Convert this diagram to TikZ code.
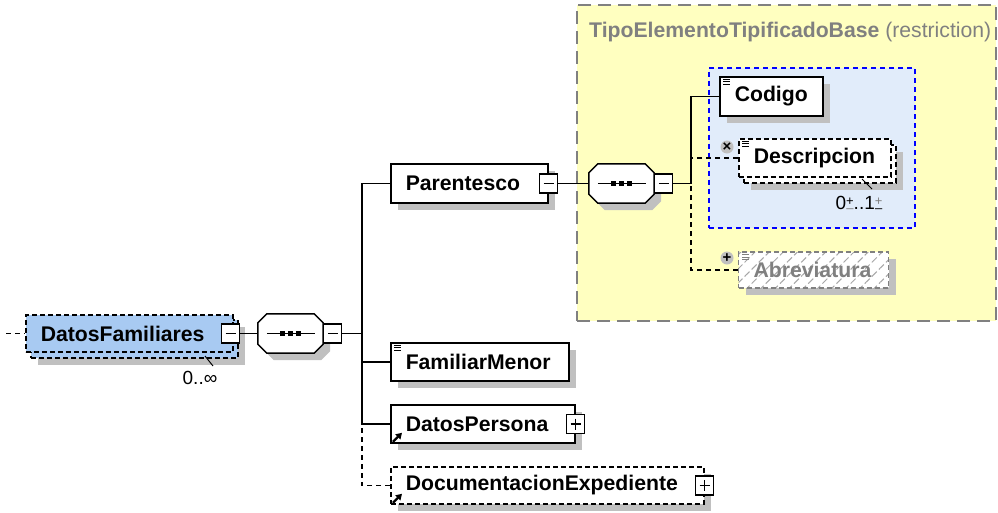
\documentclass[tikz,border=0pt]{standalone}
\usepackage{fontspec}
\setmainfont{Liberation Sans}
\usetikzlibrary{shadows,patterns.meta,arrows.meta}

\definecolor{yellowbg}{RGB}{255,255,192}
\definecolor{bluebg}{RGB}{225,236,250}
\definecolor{elemblue}{RGB}{168,202,242}
\definecolor{shadowgray}{RGB}{192,192,192}
\definecolor{titlegray}{RGB}{128,128,128}
\definecolor{boxblue}{RGB}{0,0,255}
\hyphenpenalty=10000

\tikzset{
	conn/.style={line width=1.5pt},
	dashconn/.style={line width=1.5pt, dash pattern=on 5pt off 4pt},
	shade/.style={drop shadow={shadow xshift=7pt, shadow yshift=-7pt, fill=shadowgray, opacity=1}},
	optional/.style={dash pattern=on 5pt off 3pt},
	elembox/.style={draw, line width=1.5pt, fill=white, anchor=west, align=left,
		inner xsep=15pt, inner ysep=0pt, minimum height=39pt},
	elem/.style={elembox, shade},
	minusbox/.style={draw, fill=white, line width=1.2pt, minimum width=18pt, minimum height=19pt, inner sep=0pt,
		path picture={\draw[black, line width=1.2pt] ([xshift=4pt]path picture bounding box.west) -- ([xshift=-4pt]path picture bounding box.east);}},
	plusbox/.style={draw, fill=white, line width=1.2pt, minimum width=18pt, minimum height=19pt, inner sep=0pt,
		path picture={\draw[black, line width=1.2pt] ([xshift=4pt]path picture bounding box.west) -- ([xshift=-4pt]path picture bounding box.east);
			\draw[black, line width=1.2pt] ([yshift=-4pt]path picture bounding box.north) -- ([yshift=4pt]path picture bounding box.south);}},
	seqbox/.style={minimum width=65pt, minimum height=39pt, inner sep=0pt},
	optmark/.style={circle, fill=shadowgray, minimum size=13pt, inner sep=0pt, font=\fontsize{15}{15}\selectfont\bfseries}
}

% octagon of a sequence compositor
\newcommand\seqshape[1]{%
	\draw[line width=1.5pt, fill=white, shade]
		([xshift=9pt]#1.north west) -- ([xshift=-9pt]#1.north east) -- ([yshift=-9pt]#1.north east)
		-- ([yshift=9pt]#1.south east) -- ([xshift=-9pt]#1.south east) -- ([xshift=9pt]#1.south west)
		-- ([yshift=9pt]#1.south west) -- ([yshift=-9pt]#1.north west) -- cycle;
	\draw[line width=1.2pt] ([xshift=9pt]#1.west) -- ([xshift=-8pt]#1.east);
	\foreach \dx in {-8,0,8}
		\fill[black] ([xshift=\dx pt]#1.center) +(-2.6pt,-2.6pt) rectangle +(2.6pt,2.6pt);}
% three-line type icon and reference arrow
\newcommand\typeicon[2][black]{%
	\foreach \dy in {3,5.5,8}
		\draw[#1, line width=1pt] ([shift={(4pt,-\dy pt)}]#2.north west) -- +(7pt,0pt);}
\newcommand\refarrow[1]{%
	\draw[black, line width=2.2pt, -{Triangle[length=6pt,width=7pt]}] ([shift={(3pt,2pt)}]#1.south west) -- +(9pt,9pt);}
\newcommand\occ[2]{\raisebox{-0.3ex}{\fontsize{13}{11}\selectfont\shortstack{\color{#1}+\\\color{#2}–}}}

\begin{document}
\fontsize{21.2}{25}\selectfont
\begin{tikzpicture}[x=1pt,y=-1pt]
	\useasboundingbox (0,0) rectangle (998,512);

	% restriction base type
	\node[draw=titlegray, fill=yellowbg, line width=2pt, dash pattern=on 13pt off 7pt, anchor=north west,
		minimum width=419pt, minimum height=316pt, inner sep=0pt] (base) at (576,4) {};
	\node[anchor=base west, text=titlegray, inner sep=0pt] (basetitle) at (589,37) {\textbf{TipoElementoTipificadoBase} (restriction)};
	\node[draw=boxblue, fill=bluebg, line width=1.5pt, dash pattern=on 5pt off 4pt, anchor=north west,
		minimum width=206pt, minimum height=160pt, inner sep=0pt] (grp) at (708,67) {};

	% root element
	\node[elembox, shade, optional, fill=elemblue, minimum width=207pt, minimum height=38pt] (dfback) at (30,339) {};
	\node[elembox, optional, fill=elemblue, text width=177pt, minimum height=37pt, font=\bfseries] (df) at (25,333.5) {DatosFamiliares};
	\node[minusbox] (dfminus) at ([xshift=-3pt]df.east) {};
	\node[font=\fontsize{19}{22}\selectfont] (dfocc) at (200,378) {0..∞};
	\draw[line width=1pt] (205,356) -- (213,366);
	\coordinate (dfin) at (6,333.5);

	\node[seqbox] (seqa) at (290.5,333.5) {};
	\seqshape{seqa}
	\node[minusbox, anchor=west] (seqaminus) at (seqa.east) {};
	\coordinate (busa) at (362,333.5);

	% children
	\node[elem, text width=127pt, font=\bfseries] (par) at (390,183.5) {Parentesco};
	\node[minusbox] (parminus) at (par.east) {};
	\node[elem, text width=148pt, minimum height=38pt, font=\bfseries] (fam) at (390,362) {FamiliarMenor};
	\node[elem, text width=154pt, minimum height=38pt, font=\bfseries] (dp) at (390,424) {DatosPersona};
	\node[plusbox] (dpplus) at (dp.east) {};
	\node[elem, optional, text width=283pt, minimum height=37pt, font=\bfseries] (doc) at (390,485.5) {DocumentacionExpediente};
	\node[plusbox] (docplus) at (doc.east) {};

	% inner sequence
	\node[seqbox] (seqb) at (621.5,183.5) {};
	\seqshape{seqb}
	\node[minusbox, anchor=west] (seqbminus) at (seqb.east) {};
	\coordinate (busb) at (691,183.5);

	\node[elem, text width=73pt, font=\bfseries] (cod) at (719,96.5) {Codigo};
	\node[elembox, shade, optional, minimum width=152pt, minimum height=38pt] (descback) at (743,164) {};
	\node[elembox, optional, text width=122pt, minimum height=38pt, font=\bfseries] (desc) at (738,158) {Descripcion};
	\node[font=\fontsize{19}{22}\selectfont, inner sep=0pt] (descocc) at (859,204) {0\occ{black}{gray}..1\occ{gray}{black}};
	\draw[line width=1pt] (862,179) -- (872,189);
	\node[elembox, shade, optional, draw=titlegray, text=titlegray, preaction={fill=white},
		pattern={Lines[angle=45,distance=10pt,line width=1pt]}, pattern color=titlegray!70,
		text width=120pt, minimum height=36pt, font=\bfseries] (abr) at (738,270) {Abreviatura};

	% connectors
	\draw[dashconn] (dfin) -- (df.west);
	\draw[conn] (dfminus.east) -- (seqa.west);
	\draw[conn] (seqaminus.east) -- (busa);
	\draw[conn] (par.west) -| (busa);
	\draw[conn] (fam.west) -| (busa);
	\draw[conn] (dp.west) -| (busa);
	\draw[dashconn] (doc.west) -| (busa);

	\draw[conn] (parminus.east) -- (seqb.west);
	\draw[conn] (seqbminus.east) -- (busb);
	\draw[conn] (cod.west) -| (busb);
	\draw[dashconn] (desc.west) -| (busb);
	\draw[dashconn] (abr.west) -| (busb);

	\node[optmark] (descmark) at (727,147) {×};
	\node[optmark] (abrmark) at (727,258) {+};

	\typeicon{cod}
	\typeicon{fam}
	\typeicon{desc}
	\typeicon[titlegray]{abr}
	\refarrow{dp}
	\refarrow{doc}
\end{tikzpicture}
\end{document}
